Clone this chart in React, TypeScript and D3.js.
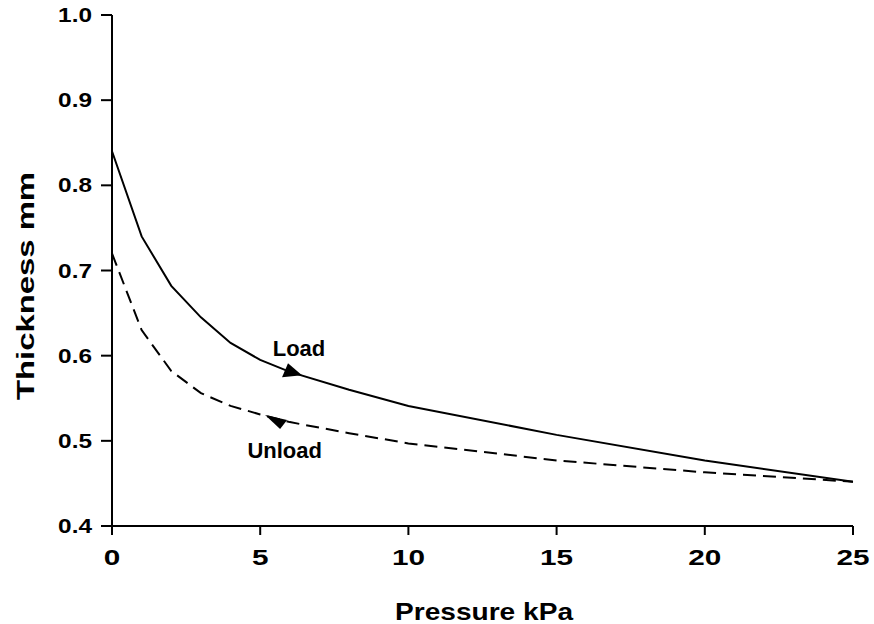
import React from 'react'
import * as d3 from 'd3'

const width = 874
const height = 624
const margin = { top: 15, right: 21, bottom: 98, left: 112 }

// pressure (kPa) and thickness (mm)
const loadPressure = [0, 1, 2, 3, 4, 5, 6, 8, 10, 15, 20, 25]
const loadThickness = [0.84, 0.74, 0.682, 0.645, 0.615, 0.595, 0.581, 0.56, 0.541, 0.507, 0.477, 0.452]
const unloadPressure = [0, 1, 2, 3, 4, 5, 6, 8, 10, 15, 20, 25]
const unloadThickness = [0.72, 0.63, 0.582, 0.556, 0.541, 0.531, 0.522, 0.509, 0.497, 0.477, 0.463, 0.452]

const xTicks = [0, 5, 10, 15, 20, 25]
const yTicks = [0.4, 0.5, 0.6, 0.7, 0.8, 0.9, 1.0]

// arrow positions on each curve
const loadArrow = { x: 6.03, y: 0.581 }
const unloadArrow = { x: 5.58, y: 0.523 }

const font = '"Liberation Sans", Arial, sans-serif'

export default function App() {
  const x = d3.scaleLinear().domain([0, 25]).range([margin.left, width - margin.right])
  const y = d3.scaleLinear().domain([0.4, 1.0]).range([height - margin.bottom, margin.top])

  const line = d3.line<[number, number]>()
    .x(d => x(d[0]))
    .y(d => y(d[1]))

  const loadPts = loadPressure.map((p, i) => [p, loadThickness[i]] as [number, number])
  const unloadPts = unloadPressure.map((p, i) => [p, unloadThickness[i]] as [number, number])

  const x0 = x(0)
  const y0 = y(0.4)

  return (
    <div style={{ position: 'absolute', left: 0, top: 0 }}>
      <svg width={width} height={height} style={{ display: 'block', background: '#fff' }} fontFamily={font} fontWeight="bold">
        {/* curves */}
        <path d={line(loadPts) || ''} fill="none" stroke="#000" strokeWidth={2} />
        <path d={line(unloadPts) || ''} fill="none" stroke="#000" strokeWidth={2} strokeDasharray="13 7" />

        {/* arrows */}
        <g transform={`translate(${x(loadArrow.x)},${y(loadArrow.y)})`}>
          <path d="M-2.7,-8.7L11.3,3.3L-8.7,5.3Z" fill="#000" />
        </g>
        <g transform={`translate(${x(unloadArrow.x)},${y(unloadArrow.y)})`}>
          <path d="M-12.3,-6.3L9.7,-1.3L2.7,7.7Z" fill="#000" />
        </g>

        <text x={x(loadArrow.x) - 18} y={y(loadArrow.y) - 16} fontSize={22} fill="#000">Load</text>
        <text x={x(unloadArrow.x) - 30} y={y(unloadArrow.y) + 37} fontSize={22} fill="#000">Unload</text>

        {/* axes */}
        <line x1={x0} x2={x0} y1={y(1.0)} y2={y0 + 1} stroke="#000" strokeWidth={2} />
        <line x1={x0} x2={x(25)} y1={y0} y2={y0} stroke="#000" strokeWidth={2} />

        {yTicks.map(t => (
          <g key={t}>
            <line x1={x0 - 11} x2={x0} y1={y(t)} y2={y(t)} stroke="#000" strokeWidth={2} />
            <text
              transform={`translate(92,${y(t) + 7}) scale(1.22,1)`}
              textAnchor="end"
              fontSize={20}
              fill="#000">
              {t.toFixed(1)}
            </text>
          </g>
        ))}

        {xTicks.map(t => (
          <g key={t}>
            <line x1={x(t)} x2={x(t)} y1={y0} y2={y0 + 9} stroke="#000" strokeWidth={2} />
            <text
              transform={`translate(${x(t)},565) scale(1.35,1)`}
              textAnchor="middle"
              fontSize={22}
              fill="#000">
              {t}
            </text>
          </g>
        ))}

        <text x={395} y={620} fontSize={24} textLength={178} lengthAdjust="spacingAndGlyphs" fill="#000">Pressure kPa</text>
        <text
          transform="translate(34,400) rotate(-90)"
          fontSize={24}
          textLength={228}
          lengthAdjust="spacingAndGlyphs"
          fill="#000">
          Thickness mm
        </text>
      </svg>
    </div>
  )
}
